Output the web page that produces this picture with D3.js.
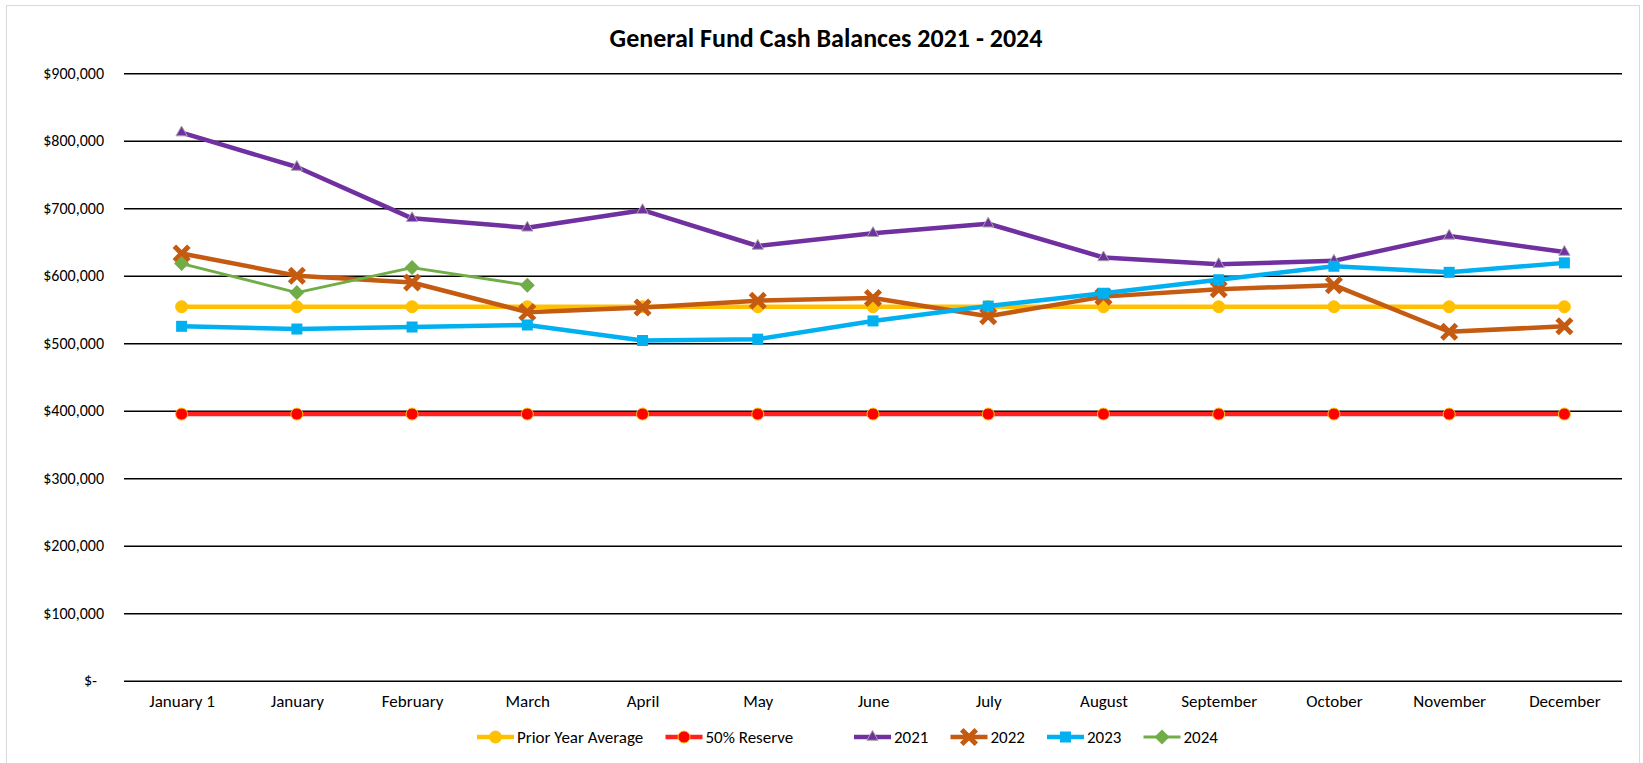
<!DOCTYPE html>
<html>
<head>
<meta charset="utf-8">
<script src="https://cdn.jsdelivr.net/npm/d3@7/dist/d3.min.js"></script>
<style>
  html, body { margin: 0; padding: 0; background: #fff; }
  svg { display: block; }
  text { font-family: Carlito, Calibri, "Liberation Sans Narrow", "Liberation Sans", Arial, sans-serif; fill: #000; }
</style>
</head>
<body>
<svg id="chart" width="1643" height="763"></svg>
<script>
const categories = ["January 1","January","February","March","April","May","June","July","August","September","October","November","December"];
const yTicks = [0,100000,200000,300000,400000,500000,600000,700000,800000,900000];
const priorYearAverage = [554000,554000,554000,554000,554000,554000,554000,554000,554000,554000,554000,554000,554000];
const reserve50 = [395000,395000,395000,395000,395000,395000,395000,395000,395000,395000,395000,395000,395000];
const y2021 = [812000,761000,685000,671000,697000,644000,663000,677000,627000,617000,622000,659000,635000];
const y2022 = [633000,600000,590000,546000,553000,563000,567000,540000,569000,580000,586000,517000,525000];
const y2023 = [525000,521000,524000,527000,504000,506000,533000,555000,574000,594000,614000,605000,619000];
const y2024 = [618000,575000,612000,586000];
const seriesNames = ["Prior Year Average","50% Reserve","2021","2022","2023","2024"];
const chartTitle = "General Fund Cash Balances 2021 - 2024";

const series = [
  {name: seriesNames[0], values: priorYearAverage, color: "#FFC000", width: 4.5, marker: "circle", fill: "#FFC000", stroke: "#FFC000"},
  {name: seriesNames[1], values: reserve50, color: "#FF2020", width: 4.5, marker: "circle", fill: "#FF0000", stroke: "#FFC000"},
  {name: seriesNames[2], values: y2021, color: "#7030A0", width: 4.5, marker: "triangle", fill: "#7030A0", stroke: "#A5A5A5"},
  {name: seriesNames[3], values: y2022, color: "#C55A11", width: 4.5, marker: "x", fill: "#C55A11", stroke: "#C55A11"},
  {name: seriesNames[4], values: y2023, color: "#00B0F0", width: 4.5, marker: "square", fill: "#00B0F0", stroke: "#00B0F0"},
  {name: seriesNames[5], values: y2024, color: "#70AD47", width: 2.8, marker: "diamond", fill: "#70AD47", stroke: "#70AD47"}
];

const svg = d3.select("#chart");
const W = 1643, H = 763;
const plot = {left: 124, right: 1622, top: 73.2, bottom: 680.7};

// chart border
svg.append("rect").attr("x", 6.5).attr("y", 5.5).attr("width", W - 10).attr("height", H - 4)
  .attr("fill", "#fff").attr("stroke", "#D9D9D9").attr("stroke-width", 1);

const x = d3.scalePoint().domain(categories).range([plot.left, plot.right]).padding(0.5);
const y = d3.scaleLinear().domain([0, 900000]).range([plot.bottom, plot.top]);

// title
svg.append("text").attr("x", 826).attr("y", 47).attr("text-anchor", "middle")
  .style("font-size", "26px").style("font-weight", "bold").text(chartTitle);

// y axis + gridlines
const fmt = d3.format(",");
const yAxis = d3.axisLeft(y).tickValues(yTicks)
  .tickSize(-(plot.right - plot.left)).tickPadding(20)
  .tickFormat(v => v === 0 ? "$-" : "$" + fmt(v));
const gy = svg.append("g").attr("transform", `translate(${plot.left},0)`).call(yAxis);
gy.select(".domain").remove();
gy.selectAll(".tick line").attr("stroke", "#000").attr("stroke-width", 1.4);
gy.selectAll(".tick text").style("font-size", "16px").attr("fill", "#000")
  .attr("dx", d => d === 0 ? -7 : 0);

// x axis labels
const xAxis = d3.axisBottom(x).tickSize(0).tickPadding(14);
const gx = svg.append("g").attr("transform", `translate(0,${plot.bottom})`).call(xAxis);
gx.select(".domain").remove();
gx.selectAll(".tick text").style("font-size", "17px").attr("fill", "#000");

// marker drawing
function drawMarker(g, type, fill, stroke, scale) {
  scale = scale || 1;
  if (type === "circle") {
    g.append("circle").attr("r", 6 * scale).attr("fill", fill).attr("stroke", stroke).attr("stroke-width", 1);
  } else if (type === "triangle") {
    g.append("path").attr("d", d3.symbol().type(d3.symbolTriangle).size(55 * scale * scale)())
      .attr("fill", fill).attr("stroke", stroke).attr("stroke-width", 1);
  } else if (type === "square") {
    g.append("rect").attr("x", -5.5 * scale).attr("y", -5.5 * scale).attr("width", 11 * scale).attr("height", 11 * scale)
      .attr("fill", fill);
  } else if (type === "diamond") {
    const s = 7.5 * scale;
    g.append("path").attr("d", `M0,${-s}L${s},0L0,${s}L${-s},0Z`).attr("fill", fill);
  } else if (type === "x") {
    const s = 5.5 * scale;
    g.append("path").attr("d", `M${-s},${-s}L${s},${s}M${-s},${s}L${s},${-s}`)
      .attr("stroke", stroke).attr("stroke-width", 5 * scale).attr("stroke-linecap", "square");
  }
}

// series
const line = d3.line().x(d => d.x).y(d => d.y);
series.forEach(s => {
  const pts = s.values.map((v, i) => ({x: x(categories[i]), y: y(v)}));
  const g = svg.append("g");
  g.append("path").attr("d", line(pts)).attr("fill", "none").attr("stroke", s.color)
    .attr("stroke-width", s.width).attr("stroke-linejoin", "round").attr("stroke-linecap", "round");
  pts.forEach(p => {
    const mg = g.append("g").attr("transform", `translate(${p.x},${p.y})`);
    drawMarker(mg, s.marker, s.fill, s.stroke, 1);
  });
});

// legend: Excel-style slots (wide slots for long names, narrow for short ones)
const legendY = 737;
const legendStart = 477;
const wideSlot = 188.5, narrowSlot = 96.5;
let lx = legendStart;
const lg = svg.append("g");
series.forEach((s, i) => {
  const item = lg.append("g").attr("transform", `translate(${lx},${legendY})`);
  item.append("line").attr("x1", 0).attr("x2", 37).attr("y1", 0).attr("y2", 0)
    .attr("stroke", s.color).attr("stroke-width", s.width);
  const mg = item.append("g").attr("transform", "translate(18.5,0)");
  drawMarker(mg, s.marker, s.fill, s.stroke, 1);
  item.append("text").attr("x", 40).attr("y", 0).attr("dy", "0.35em")
    .style("font-size", "17px").text(s.name);
  lx += (s.name.length > 6 ? wideSlot : narrowSlot);
});
</script>
</body>
</html>
